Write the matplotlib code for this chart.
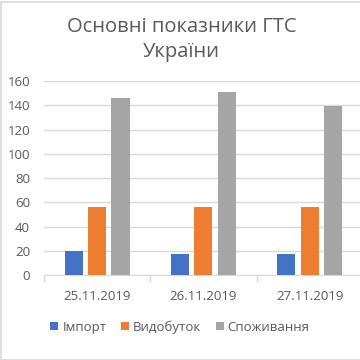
import matplotlib
matplotlib.use('Agg')
import matplotlib.pyplot as plt
from matplotlib.patches import Rectangle
import numpy as np

# data
dates = ['25.11.2019', '26.11.2019', '27.11.2019']
series = ['Імпорт', 'Видобуток', 'Споживання']
import_vals = [19.5, 17.4, 17.1]
prod_vals = [56, 56, 56]
cons_vals = [146.3, 150.7, 139.7]
colors = ['#4472c4', '#ed7d31', '#a5a5a5']

plt.rcParams['font.family'] = ['Open Sans', 'DejaVu Sans']
txt = '#595959'

fig = plt.figure(figsize=(3.6, 3.6), dpi=100)
fig.patches.append(Rectangle((0.002, 0.0), 1.2, 0.995, transform=fig.transFigure,
                             fill=False, edgecolor='#d9d9d9', lw=1.2))

ax = fig.add_axes([0.122, 0.236, 1.008 - 0.122, 0.775 - 0.236])
x = np.arange(len(dates))
w = 0.17
step = 0.22
for i, (vals, name) in enumerate(zip([import_vals, prod_vals, cons_vals], series)):
    ax.bar(x + (i - 1) * step, vals, w, color=colors[i], label=name, zorder=3)

ax.set_xlim(-0.5, 2.5)
ax.set_ylim(0, 160)
ax.set_yticks(range(0, 161, 20))
ax.grid(axis='y', color='#d9d9d9', lw=1, zorder=0)
ax.set_xticks([-0.5, 0.5, 1.5, 2.5])
ax.set_xticklabels([])
ax.set_xticks(x, minor=True)
ax.set_xticklabels(dates, minor=True)
ax.tick_params(axis='x', which='major', length=5, color='#d9d9d9', width=1)
ax.tick_params(axis='x', which='minor', length=0, pad=11, labelsize=9.5, labelcolor=txt)
ax.tick_params(axis='y', length=0, pad=10, labelsize=9.5, labelcolor=txt)
for s in ['top', 'right', 'left']:
    ax.spines[s].set_visible(False)
ax.spines['bottom'].set_color('#d9d9d9')

fig.text(0.505, 0.89, 'Основні показники ГТС\nУкраїни', ha='center', va='center',
         fontsize=14.5, color=txt, linespacing=1.3)

leg = fig.legend(loc='center', bbox_to_anchor=(0.5, 0.092), ncol=3, frameon=False,
                 fontsize=9.5, handlelength=0.6, handleheight=0.6, handletextpad=0.3,
                 columnspacing=1.1, labelcolor=txt)

fig.savefig('out.png', dpi=100)
